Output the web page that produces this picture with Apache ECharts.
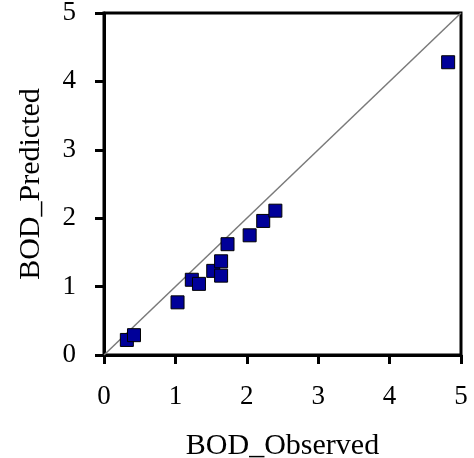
<!DOCTYPE html>
<html>
<head>
<meta charset="utf-8">
<script src="https://cdn.jsdelivr.net/npm/echarts@6/dist/echarts.min.js"></script>
<style>
  html, body { margin: 0; padding: 0; background: #fff; }
  #chart { width: 474px; height: 458px; }
</style>
</head>
<body>
<div id="chart"></div>
<script>
var observed  = [0.32, 0.42, 1.03, 1.23, 1.33, 1.53, 1.64, 1.64, 1.73, 2.04, 2.23, 2.40, 4.82];
var predicted = [0.22, 0.29, 0.77, 1.10, 1.04, 1.23, 1.16, 1.37, 1.62, 1.75, 1.96, 2.11, 4.28];
var oneToOne  = [[0, 0], [5, 5]];

var points = observed.map(function (x, i) { return [x, predicted[i]]; });

var font = 'Liberation Serif';
var myChart = echarts.init(document.getElementById('chart'));

myChart.setOption({
    animation: false,
    grid: {
        left: 104, right: 13, top: 13, bottom: 103,
        outerBoundsMode: 'none',
        show: true, borderColor: '#000', borderWidth: 3
    },
    xAxis: {
        type: 'value', min: 0, max: 5, interval: 1,
        name: 'BOD_Observed', nameLocation: 'middle', nameGap: 76,
        nameTextStyle: { fontFamily: font, fontSize: 30, color: '#000' },
        axisLine: { show: true, onZero: false, lineStyle: { color: '#000', width: 3 } },
        axisTick: { show: true, inside: false, length: 9, lineStyle: { color: '#000', width: 3 } },
        axisLabel: { margin: 28, fontFamily: font, fontSize: 27, color: '#000' },
        splitLine: { show: false }
    },
    yAxis: {
        type: 'value', min: 0, max: 5, interval: 1,
        name: 'BOD_Predicted', nameLocation: 'middle', nameGap: 58,
        nameTextStyle: { fontFamily: font, fontSize: 30, color: '#000' },
        axisLine: { show: true, onZero: false, lineStyle: { color: '#000', width: 3 } },
        axisTick: { show: true, inside: false, length: 9, lineStyle: { color: '#000', width: 3 } },
        axisLabel: { margin: 28, fontFamily: font, fontSize: 27, color: '#000' },
        splitLine: { show: false }
    },
    series: [
        {
            type: 'line',
            data: oneToOne,
            symbol: 'none',
            lineStyle: { color: '#7a7a7a', width: 1.5 },
            silent: true,
            z: 1
        },
        {
            type: 'scatter',
            data: points,
            symbol: 'rect',
            symbolSize: 13,
            itemStyle: { color: '#000099', borderColor: '#000', borderWidth: 1, opacity: 1 },
            z: 2
        }
    ]
});
</script>
</body>
</html>
